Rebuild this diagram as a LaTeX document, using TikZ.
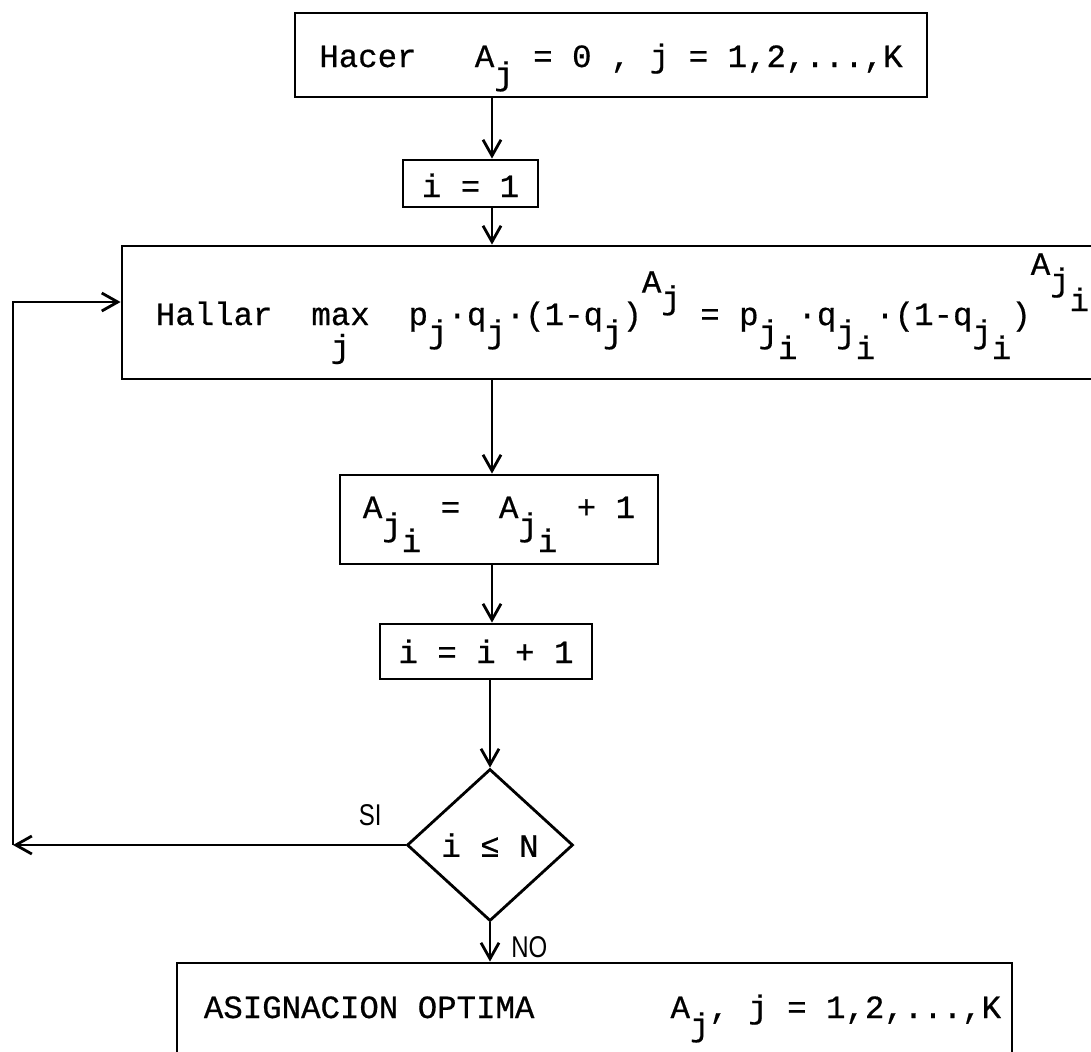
\documentclass[tikz,border=0pt]{standalone}
\usepackage{fontspec}
\setmainfont{Liberation Mono}[FakeBold=0.6]
\newfontfamily\labelfont[FakeStretch=0.8]{Liberation Sans}
\usetikzlibrary{arrows.meta}
\usetikzlibrary{shapes.geometric}
\newcommand{\lift}[2]{\raisebox{#1em}{#2}}
\newcommand{\subj}{\lift{-0.55}{j}}
\newcommand{\subji}{\lift{-0.55}{j}\lift{-1.05}{i}}

\begin{document}
\begin{tikzpicture}[x=0.5pt,y=-0.5pt,line width=1.4pt,>={Straight Barb[length=8pt,width=9pt]},font=\fontsize{16.2}{19}\selectfont]
\tikzstyle{box}=[draw,rectangle,inner sep=0pt,text depth=0pt]
\tikzstyle{yesno}=[font=\labelfont\fontsize{15}{17}\selectfont,inner sep=0pt]
\clip (0,0) rectangle (1091,1051);
\coordinate (axis) at (492,0);
\node[box,minimum width=316pt,minimum height=42pt,text height=12pt] (init) at (611,55)
  {Hacer~~~A\subj~=~0~,~j~=~1,2,...,K};
\node[box,minimum width=67.5pt,minimum height=23.5pt,text height=13.5pt] (one) at (470.5,183.5)
  {i = 1};
\node[box,minimum width=500.5pt,minimum height=66.5pt,text height=12.5pt] (hallar) at (622.5,312.5)
  {Hallar~~m\rlap{\lift{-1}{j}}ax~~p\subj·q\subj·(1-q\subj)\lift{1}{A}\lift{0.5}{j}~=~p\subji·q\subji·(1-q\subji)\lift{1.55}{A}\lift{1.05}{j}\lift{0.43}{i}};
\node[box,minimum width=159pt,minimum height=44.5pt,text height=0pt,text depth=1.5pt] (incr) at (499,519.5)
  {A\subji~=~~A\subji~+~1};
\node[box,minimum width=106pt,minimum height=27.5pt,text height=11.5pt] (next) at (486,651.5)
  {i = i + 1};
\node[draw,diamond,inner sep=0pt,minimum width=83pt,minimum height=76pt] (dec) at (490,845)
  {i ≤ N};
\node[box,minimum width=417.5pt,minimum height=55pt,text height=0pt] (final) at (594.5,1018)
  {\kern8pt ASIGNACION OPTIMA~~~~~~~A\subj, j = 1,2,...,K};
\coordinate (corner) at (13,845);
\coordinate (back) at (13,302);
% main flow
\draw[->] (init.south -| axis) -- (one.north -| axis);
\draw[->] (one.south -| axis) -- (hallar.north -| axis);
\draw[->] (hallar.south -| axis) -- (incr.north -| axis);
\draw[->] (incr.south -| axis) -- (next.north -| axis);
\draw[->] (next.south -| dec.north) -- (dec.north);
\draw[->] (dec.south) -- node[yesno,right=10pt,pos=0.63] {NO} (final.north -| dec.south);
% loop back
\draw[->] (dec.west) -- node[yesno,above=9pt,pos=0.09] {SI} (corner);
\draw[->] (corner) -- (back) -- (back -| hallar.west);
\end{tikzpicture}
\end{document}
